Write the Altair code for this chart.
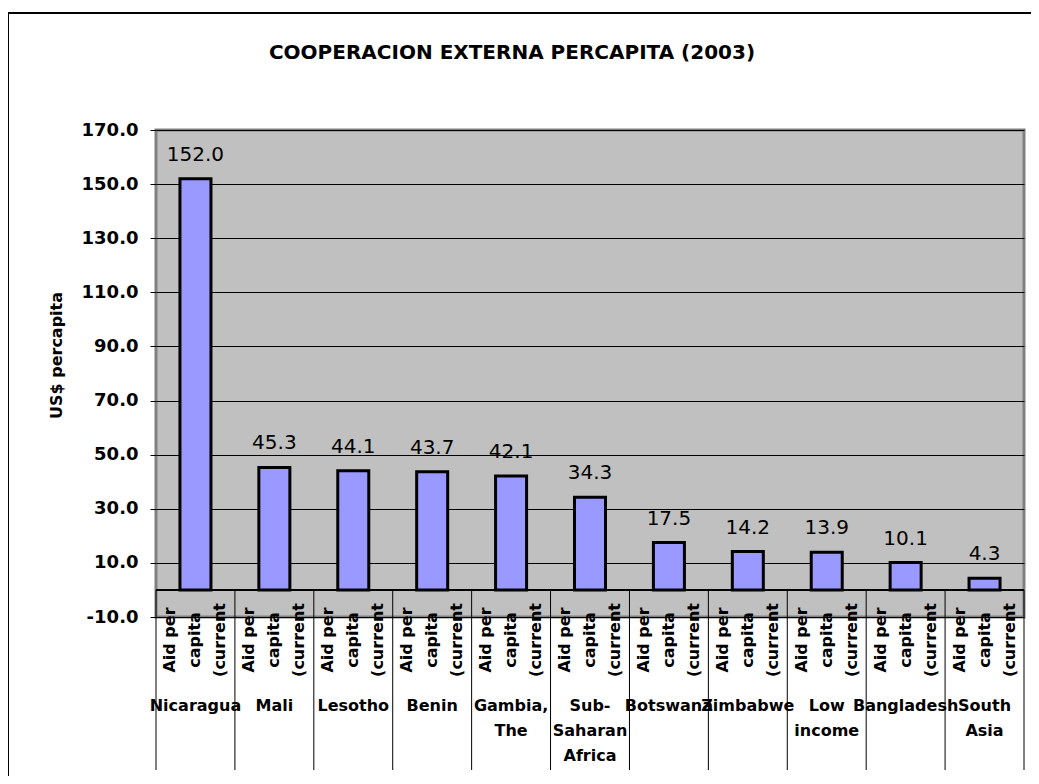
import altair as alt
import pandas as pd

# ---- data ----
categories = ["Nicaragua", "Mali", "Lesotho", "Benin", "Gambia, The",
              "Sub-Saharan Africa", "Botswana", "Zimbabwe", "Low income",
              "Bangladesh", "South Asia"]
category_labels = ["Nicaragua", "Mali", "Lesotho", "Benin", "Gambia,\nThe",
                   "Sub-\nSaharan\nAfrica", "Botswana", "Zimbabwe", "Low\nincome",
                   "Bangladesh", "South\nAsia"]
values = [152.0, 45.3, 44.1, 43.7, 42.1, 34.3, 17.5, 14.2, 13.9, 10.1, 4.3]
series_label_lines = ["Aid per", "capita", "(current"]
y_ticks = [-10, 10, 30, 50, 70, 90, 110, 130, 150, 170]
title_text = "COOPERACION EXTERNA PERCAPITA (2003)"
y_title = "US$ percapita"

df = pd.DataFrame({
    "cat": categories,
    "label": category_labels,
    "value": values,
    "series": ["\n".join(series_label_lines)] * len(categories),
})
bounds_df = pd.DataFrame({"cat": categories})
last_df = pd.DataFrame({"cat": [categories[-1]]})

W, H = 868, 487
FONT = "DejaVu Sans"

xscale = alt.Scale(domain=categories, paddingInner=0, paddingOuter=0)
yscale = alt.Scale(domain=[-10, 170], nice=False, zero=False)
y_axis = alt.Axis(values=y_ticks, format=".1f",
                  labelExpr="replace(format(datum.value, '.1f'), '\u2212', '-')",
                  title=y_title,
                  grid=True, gridColor="#000000", gridWidth=1,
                  domain=False, tickColor="#000000", tickSize=6,
                  tickWidth=1, labelFont=FONT, labelFontSize=18,
                  labelFontWeight="bold", labelColor="#000000",
                  labelPadding=12, titleFont=FONT, titleFontSize=16,
                  titleFontWeight="bold", titleColor="#000000",
                  titleAngle=270, titleAlign="center",
                  titleBaseline="middle", titleX=-100, titleY=225)

base = alt.Chart(df)

bars = base.mark_bar(width={"band": 0.393}, fill="#9999FF", stroke="#000000",
                     strokeWidth=3).encode(
    x=alt.X("cat:N", scale=xscale, axis=None, sort=categories),
    y=alt.Y("value:Q", scale=yscale, axis=y_axis),
)

value_labels = base.mark_text(font=FONT, fontSize=20, color="#000000",
                              align="center", baseline="alphabetic", dy=-18).encode(
    x=alt.X("cat:N", scale=xscale, axis=None, sort=categories),
    y=alt.Y("value:Q", scale=yscale, axis=y_axis),
    text=alt.Text("value:Q", format=".1f"),
)

zero_line = base.mark_rule(color="#000000", strokeWidth=1).encode(
    y=alt.Y(datum=0, scale=yscale, axis=y_axis),
)

separators = alt.Chart(bounds_df).mark_rule(color="#000000", strokeWidth=1).encode(
    x=alt.X("cat:N", scale=xscale, axis=None, bandPosition=0, sort=categories),
    y=alt.Y(datum=0, scale=yscale, axis=y_axis),
    y2=alt.value(640),
)
last_sep = alt.Chart(last_df).mark_rule(color="#000000", strokeWidth=1).encode(
    x=alt.X("cat:N", scale=xscale, axis=None, bandPosition=1, sort=categories),
    y=alt.Y(datum=0, scale=yscale, axis=y_axis),
    y2=alt.value(640),
)

# rotated (270 deg) three-line series label; dy shifts the line block sideways
series_text = base.mark_text(font=FONT, fontSize=16, fontWeight="bold",
                             color="#000000", angle=270, align="center",
                             baseline="middle", lineBreak="\n",
                             lineHeight=25, dy=-25).encode(
    x=alt.X("cat:N", scale=xscale, axis=None, sort=categories),
    y=alt.value(510),
    text="series:N",
)

cat_text = base.mark_text(font=FONT, fontSize=16, fontWeight="bold",
                          color="#000000", align="center", baseline="top",
                          lineBreak="\n", lineHeight=25).encode(
    x=alt.X("cat:N", scale=xscale, axis=None, sort=categories),
    y=alt.value(568),
    text="label:N",
)

title = alt.Chart(pd.DataFrame({"t": [title_text]})).mark_text(
    font=FONT, fontSize=20, fontWeight="bold", color="#000000",
    align="center", baseline="alphabetic").encode(
    x=alt.value(356), y=alt.value(-71), text="t:N")

border_left = alt.Chart(pd.DataFrame({"a": [0]})).mark_rule(
    color="#000000", strokeWidth=2).encode(
    x=alt.value(-148), y=alt.value(-117), y2=alt.value(700))
border_top = alt.Chart(pd.DataFrame({"a": [0]})).mark_rule(
    color="#000000", strokeWidth=2).encode(
    y=alt.value(-117), x=alt.value(-149), x2=alt.value(950))

chart = alt.layer(
    bars, zero_line, value_labels, separators, last_sep, series_text,
    cat_text, title, border_left, border_top
).properties(
    width=W, height=H,
    padding={"left": 148, "top": 122, "right": 7, "bottom": 159},
    autosize=alt.AutoSizeParams(type="none"),
    background="#FFFFFF",
).configure_view(
    fill="#C0C0C0", stroke="#808080", strokeWidth=3,
)

chart.save("out.html", embed_options={"renderer": "svg", "actions": False})
